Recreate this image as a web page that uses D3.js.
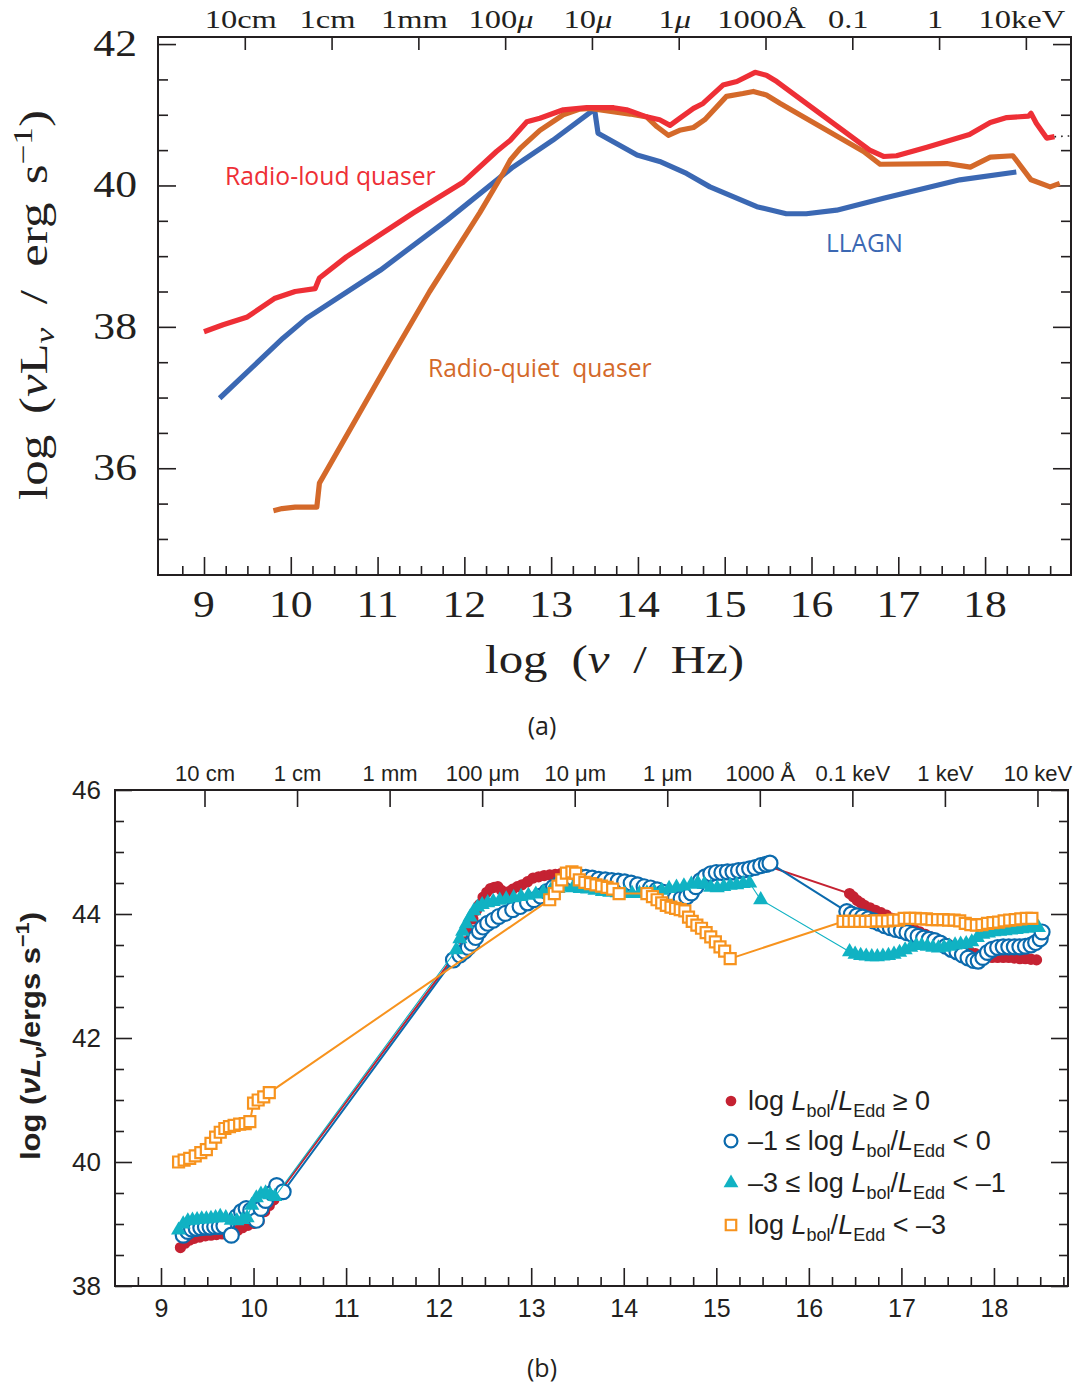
<!DOCTYPE html>
<html>
<head>
<meta charset="utf-8">
<title>AGN spectral energy distributions</title>
<script src="https://cdn.jsdelivr.net/npm/d3@7/dist/d3.min.js"></script>
<style>
  html, body { margin: 0; padding: 0; background: #ffffff; }
  svg { display: block; }
</style>
</head>
<body>
<svg id="fig" width="1088" height="1391"></svg>
<script>
// ===== Panel (a): template SEDs, log(nu / Hz) vs log(nu L_nu / erg s^-1) =====
const rlqNu = [9.00, 9.22, 9.50, 9.81, 10.05, 10.28, 10.33, 10.64, 11.41, 11.99, 12.37, 12.53, 12.72, 12.87, 13.14, 13.41, 13.72, 13.87, 14.10, 14.25, 14.37, 14.48, 14.64, 14.75, 14.98, 15.14, 15.35, 15.48, 15.60, 16.67, 16.83, 16.98, 17.33, 17.82, 18.06, 18.25, 18.50, 18.53, 18.59, 18.71, 18.80];
const rlqL  = [37.93, 38.03, 38.14, 38.40, 38.50, 38.54, 38.69, 38.99, 39.61, 40.05, 40.48, 40.64, 40.90, 40.95, 41.07, 41.10, 41.10, 41.07, 40.97, 40.93, 40.85, 40.95, 41.09, 41.16, 41.42, 41.47, 41.60, 41.56, 41.47, 40.50, 40.41, 40.42, 40.54, 40.72, 40.89, 40.96, 40.98, 41.02, 40.88, 40.67, 40.69];
const rlqTailNu = [18.80, 18.97];
const rlqTailL  = [40.69, 40.70];

const rqqNu = [9.80, 9.90, 10.05, 10.30, 10.33, 11.14, 11.60, 12.18, 12.45, 12.53, 12.64, 12.87, 13.14, 13.33, 13.45, 13.91, 14.10, 14.22, 14.35, 14.48, 14.64, 14.77, 15.02, 15.21, 15.33, 15.48, 15.64, 16.60, 16.79, 17.56, 17.83, 18.06, 18.32, 18.53, 18.75, 18.86];
const rqqL  = [35.40, 35.43, 35.45, 35.45, 35.79, 37.53, 38.50, 39.62, 40.18, 40.36, 40.52, 40.78, 41.00, 41.08, 41.09, 41.01, 40.97, 40.83, 40.71, 40.78, 40.82, 40.93, 41.26, 41.30, 41.33, 41.28, 41.16, 40.48, 40.30, 40.31, 40.26, 40.40, 40.42, 40.08, 39.98, 40.03];

const llagnNu = [9.18, 9.91, 10.18, 11.03, 11.80, 12.56, 13.02, 13.50, 13.54, 13.99, 14.25, 14.56, 14.83, 15.37, 15.71, 15.94, 16.29, 16.83, 17.71, 18.36];
const llagnL  = [36.99, 37.84, 38.12, 38.80, 39.51, 40.26, 40.64, 41.08, 40.74, 40.43, 40.34, 40.17, 39.98, 39.70, 39.60, 39.60, 39.65, 39.82, 40.08, 40.19];

const majorNuA = [9, 10, 11, 12, 13, 14, 15, 16, 17, 18];
const majorLA  = [36, 38, 40, 42];
const waveNu   = [9.47, 10.47, 11.47, 12.47, 13.47, 14.47, 15.47, 16.47, 17.47, 18.47];
const waveLabelsA = ["10cm", "1cm", "1mm", "100μ", "10μ", "1μ", "1000Å", "0.1", "1", "10keV"];

// ===== Panel (b): mean SEDs binned by Eddington ratio =====
// log Lbol/LEdd >= 0
const eddHighNu = [9.21, 9.26, 9.31, 9.36, 9.42, 9.48, 9.54, 9.60, 9.66, 9.72, 9.78, 9.83, 9.88, 9.94, 10.00, 10.06, 10.12, 10.17, 10.22,
  12.28, 12.33, 12.37, 12.41, 12.44, 12.48, 12.52, 12.56, 12.60, 12.64, 12.68, 12.72, 12.76, 12.80, 12.85, 12.90, 12.96, 13.02, 13.08, 13.14,
  13.20, 13.26, 13.32, 13.38, 13.44, 13.50, 13.56, 13.62, 13.68, 13.74, 13.80, 13.86, 13.92, 13.98, 14.04, 14.10, 14.16, 14.22, 14.28, 14.34,
  14.40, 14.46, 14.52, 14.58, 14.64, 14.70, 14.76, 14.82, 14.88, 14.94, 15.00, 15.06, 15.12, 15.18, 15.24, 15.30, 15.36, 15.42, 15.48, 15.54,
  16.44, 16.48, 16.52, 16.56, 16.60, 16.66, 16.72, 16.78, 16.84, 16.90, 16.96, 17.02, 17.08, 17.14, 17.20, 17.26, 17.32, 17.38, 17.44, 17.50,
  17.56, 17.62, 17.68, 17.74, 17.80, 17.86, 17.92, 17.98, 18.04, 18.10, 18.16, 18.22, 18.28, 18.34, 18.40, 18.46];
const eddHighL = [38.62, 38.69, 38.74, 38.77, 38.79, 38.81, 38.82, 38.83, 38.84, 38.85, 38.87, 38.90, 38.94, 38.98, 39.01, 39.04, 39.20, 39.30, 39.39,
  43.55, 43.75, 43.92, 44.06, 44.15, 44.27, 44.35, 44.41, 44.43, 44.44, 44.38, 44.34, 44.36, 44.40, 44.44, 44.47, 44.52, 44.58, 44.60, 44.62,
  44.63, 44.64, 44.65, 44.64, 44.62, 44.60, 44.58, 44.56, 44.55, 44.54, 44.53, 44.52, 44.50, 44.48, 44.46, 44.44, 44.42, 44.40, 44.37, 44.33,
  44.29, 44.26, 44.24, 44.24, 44.27, 44.33, 44.42, 44.52, 44.60, 44.64, 44.66, 44.67, 44.68, 44.69, 44.70, 44.71, 44.73, 44.75, 44.77, 44.78,
  44.33, 44.28, 44.22, 44.18, 44.14, 44.10, 44.06, 44.02, 43.98, 43.93, 43.88, 43.83, 43.79, 43.75, 43.71, 43.67, 43.63, 43.59, 43.55, 43.52,
  43.48, 43.45, 43.42, 43.39, 43.36, 43.33, 43.31, 43.30, 43.30, 43.30, 43.30, 43.29, 43.28, 43.28, 43.27, 43.26];

// -1 <= log Lbol/LEdd < 0
const eddMidNu = [9.24, 9.29, 9.33, 9.38, 9.43, 9.48, 9.53, 9.58, 9.63, 9.68, 9.76, 9.82, 9.87, 9.92, 9.97, 10.03, 10.08, 10.13, 10.20, 10.25, 10.32,
  12.16, 12.23, 12.28, 12.32, 12.36, 12.40, 12.44, 12.48, 12.53, 12.59, 12.65, 12.72, 12.80, 12.88, 12.96, 13.03, 13.10, 13.17, 13.24, 13.31,
  13.38, 13.45, 13.52, 13.59, 13.66, 13.73, 13.80, 13.87, 13.94, 14.01, 14.08, 14.15, 14.22, 14.29, 14.36, 14.43, 14.50, 14.56, 14.62, 14.68,
  14.73, 14.78, 14.83, 14.88, 14.94, 15.00, 15.06, 15.12, 15.18, 15.24, 15.30, 15.36, 15.42, 15.48, 15.54, 15.58,
  16.41, 16.46, 16.52, 16.58, 16.64, 16.70, 16.76, 16.82, 16.88, 16.94, 17.00, 17.06, 17.12, 17.18, 17.24, 17.30, 17.36, 17.42, 17.48, 17.54,
  17.60, 17.66, 17.72, 17.78, 17.83, 17.88, 17.93, 17.98, 18.04, 18.10, 18.16, 18.22, 18.28, 18.34, 18.40, 18.45, 18.50, 18.52];
const eddMidL = [38.82, 38.88, 38.92, 38.93, 38.94, 38.95, 38.95, 38.96, 38.96, 38.97, 38.82, 39.12, 39.20, 39.25, 39.22, 39.06, 39.25, 39.38, 39.50, 39.62, 39.52,
  43.26, 43.34, 43.40, 43.46, 43.53, 43.62, 43.72, 43.79, 43.85, 43.90, 43.96, 44.01, 44.07, 44.12, 44.18, 44.23, 44.29, 44.36, 44.43, 44.49,
  44.54, 44.58, 44.60, 44.59, 44.58, 44.56, 44.55, 44.54, 44.53, 44.52, 44.50, 44.47, 44.44, 44.42, 44.39, 44.35, 44.30, 44.26, 44.25, 44.28,
  44.34, 44.44, 44.54, 44.60, 44.65, 44.67, 44.67, 44.68, 44.68, 44.70, 44.71, 44.73, 44.75, 44.78, 44.80, 44.82,
  44.04, 44.00, 43.97, 43.95, 43.92, 43.89, 43.85, 43.81, 43.78, 43.75, 43.73, 43.70, 43.67, 43.64, 43.61, 43.59, 43.57, 43.53, 43.48, 43.43,
  43.39, 43.34, 43.29, 43.25, 43.24, 43.30, 43.38, 43.43, 43.46, 43.47, 43.47, 43.47, 43.47, 43.48, 43.50, 43.54, 43.60, 43.71];

// -3 <= log Lbol/LEdd < -1
const eddLowNu = [9.19, 9.24, 9.29, 9.34, 9.39, 9.44, 9.49, 9.54, 9.59, 9.64, 9.70, 9.76, 9.82, 9.88, 9.93, 9.98, 10.03, 10.08, 10.13, 10.18, 10.23,
  12.19, 12.23, 12.26, 12.30, 12.34, 12.38, 12.42, 12.47, 12.53, 12.59, 12.66, 12.73, 12.81, 12.89, 12.97, 13.05, 13.13, 13.21, 13.29, 13.37,
  13.45, 13.53, 13.61, 13.69, 13.77, 13.85, 13.93, 14.01, 14.09, 14.17, 14.25, 14.33, 14.41, 14.49, 14.57, 14.65, 14.73, 14.80, 14.87, 14.94,
  15.01, 15.08, 15.15, 15.22, 15.29, 15.36, 15.48,
  16.44, 16.50, 16.56, 16.62, 16.68, 16.74, 16.80, 16.86, 16.92, 16.98, 17.04, 17.10, 17.16, 17.22, 17.28, 17.34, 17.40, 17.46, 17.52, 17.58,
  17.64, 17.70, 17.76, 17.82, 17.88, 17.94, 18.00, 18.06, 18.12, 18.18, 18.24, 18.30, 18.36, 18.42, 18.48];
const eddLowL = [38.90, 39.00, 39.05, 39.06, 39.07, 39.08, 39.08, 39.09, 39.10, 39.12, 39.10, 39.06, 39.05, 39.07, 39.10, 39.30, 39.42, 39.48, 39.50, 39.47, 39.44,
  43.42, 43.60, 43.72, 43.84, 43.95, 44.05, 44.11, 44.15, 44.18, 44.20, 44.22, 44.24, 44.26, 44.28, 44.30, 44.32, 44.35, 44.38, 44.41, 44.43,
  44.42, 44.41, 44.40, 44.38, 44.36, 44.35, 44.34, 44.33, 44.33, 44.33, 44.34, 44.36, 44.38, 44.41, 44.43, 44.45, 44.48, 44.50, 44.48, 44.43,
  44.42, 44.44, 44.46, 44.47, 44.49, 44.50, 44.23,
  43.39, 43.35, 43.33, 43.32, 43.31, 43.31, 43.32, 43.33, 43.35, 43.38, 43.42, 43.46, 43.49, 43.49, 43.48, 43.46, 43.45, 43.46, 43.48, 43.50,
  43.51, 43.52, 43.55, 43.62, 43.67, 43.69, 43.71, 43.72, 43.73, 43.74, 43.75, 43.76, 43.77, 43.78, 43.78];

// log Lbol/LEdd < -3
const eddVeryLowNu = [9.19, 9.25, 9.31, 9.37, 9.43, 9.49, 9.54, 9.59, 9.64, 9.69, 9.74, 9.79, 9.85, 9.91, 9.96, 10.00, 10.05, 10.11, 10.17,
  13.20, 13.25, 13.29, 13.33, 13.38, 13.44, 13.48, 13.52, 13.58, 13.64, 13.70, 13.76, 13.82, 13.88, 13.95, 14.25, 14.31, 14.36, 14.41, 14.46,
  14.51, 14.56, 14.61, 14.66, 14.70, 14.74, 14.79, 14.84, 14.89, 14.94, 14.99, 15.04, 15.09, 15.15,
  16.37, 16.43, 16.49, 16.55, 16.61, 16.67, 16.73, 16.79, 16.85, 16.91, 16.97, 17.03, 17.09, 17.15, 17.21, 17.27, 17.33, 17.39, 17.45, 17.51,
  17.57, 17.63, 17.69, 17.75, 17.81, 17.87, 17.93, 17.99, 18.05, 18.11, 18.17, 18.23, 18.29, 18.35, 18.41];
const eddVeryLowL = [40.00, 40.03, 40.06, 40.10, 40.15, 40.20, 40.30, 40.40, 40.48, 40.54, 40.57, 40.59, 40.61, 40.62, 40.65, 40.95, 41.00, 41.05, 41.12,
  44.23, 44.33, 44.45, 44.55, 44.66, 44.68, 44.66, 44.55, 44.51, 44.49, 44.47, 44.45, 44.43, 44.40, 44.33, 44.33, 44.28, 44.23, 44.18, 44.14,
  44.11, 44.09, 44.07, 44.05, 43.95, 43.88, 43.82, 43.77, 43.70, 43.63, 43.55, 43.47, 43.40, 43.28,
  43.88, 43.88, 43.88, 43.88, 43.88, 43.88, 43.89, 43.89, 43.89, 43.90, 43.90, 43.93, 43.93, 43.93, 43.92, 43.92, 43.91, 43.91, 43.91, 43.90,
  43.90, 43.89, 43.85, 43.83, 43.82, 43.83, 43.85, 43.86, 43.87, 43.89, 43.90, 43.91, 43.92, 43.93, 43.93];

const majorNuB = [9, 10, 11, 12, 13, 14, 15, 16, 17, 18];
const majorLB  = [38, 40, 42, 44, 46];
const waveLabelsB = ["10 cm", "1 cm", "1 mm", "100 μm", "10 μm", "1 μm", "1000 Å", "0.1 keV", "1 keV", "10 keV"];
const legendPrefix = ["", "–1 ≤ ", "–3 ≤ ", ""];
const legendSuffix = [" ≥ 0", " < 0", " < –1", " < –3"];

// ---------------------------------------------------------------
const svg = d3.select("#fig");
const INK = "#231f20";
const SERIF = "'Liberation Serif','Times New Roman',serif";
const SANS = "'Liberation Sans',Arial,Helvetica,sans-serif";
const HUMAN = "'Open Sans','Noto Sans',sans-serif";

function tidyAxis(g) {
  g.select(".domain").remove();
  g.selectAll(".tick line").attr("stroke", INK).attr("stroke-width", 1.6);
}

// text inside a group that can be stretched horizontally (the serif labels are set wide)
function label(parent, x, y, family, size, anchor, rotate) {
  const g = parent.append("g");
  const t = g.append("text")
    .attr("font-family", family).attr("font-size", size)
    .attr("fill", INK).attr("text-anchor", anchor)
    .style("white-space", "pre");
  const place = s => g.attr("transform",
    `translate(${x},${y})` + (rotate ? ` rotate(${rotate})` : "") + ` scale(${s},1)`);
  place(1);
  return {
    t,
    stretch: s => { place(s); },
    fit: w => { place(w / t.node().getBBox().width); }
  };
}

function minorValues(lo, hi, step, skip) {
  const out = [];
  for (let i = Math.ceil(lo / step); i * step <= hi + 1e-9; i++) {
    const v = +(i * step).toFixed(4);
    if (!skip(v)) out.push(v);
  }
  return out;
}

// ===================== panel (a) =====================
const xA = d3.scaleLinear().domain([8.47, 18.99]).range([158, 1071]);
const yA = d3.scaleLinear().domain([34.49, 42.1]).range([575, 37]);
const [aL, aR] = xA.range();
const [aB, aT] = yA.range();
const pa = svg.append("g");

const minorNuA = minorValues(8.5, 18.99, 0.25, v => Number.isInteger(v) || v <= 8.5);
const minorLA = minorValues(34.6, 42.1, 0.5, v => majorLA.includes(v));

pa.append("g").attr("transform", `translate(0,${aB})`)
  .call(d3.axisBottom(xA).tickValues(majorNuA).tickSize(-18).tickFormat("")).call(tidyAxis);
pa.append("g").attr("transform", `translate(0,${aB})`)
  .call(d3.axisBottom(xA).tickValues(minorNuA).tickSize(-9).tickFormat("")).call(tidyAxis);
pa.append("g").attr("transform", `translate(0,${aT})`)
  .call(d3.axisTop(xA).tickValues(waveNu).tickSize(-13).tickFormat("")).call(tidyAxis);
pa.append("g").attr("transform", `translate(${aL},0)`)
  .call(d3.axisLeft(yA).tickValues(majorLA).tickSize(-18).tickFormat("")).call(tidyAxis);
pa.append("g").attr("transform", `translate(${aL},0)`)
  .call(d3.axisLeft(yA).tickValues(minorLA).tickSize(-10).tickFormat("")).call(tidyAxis);
pa.append("g").attr("transform", `translate(${aR},0)`)
  .call(d3.axisRight(yA).tickValues(majorLA).tickSize(-18).tickFormat("")).call(tidyAxis);
pa.append("g").attr("transform", `translate(${aR},0)`)
  .call(d3.axisRight(yA).tickValues(minorLA).tickSize(-10).tickFormat("")).call(tidyAxis);

pa.append("rect").attr("x", aL).attr("y", aT).attr("width", aR - aL).attr("height", aB - aT)
  .attr("fill", "none").attr("stroke", INK).attr("stroke-width", 2);

// template curves
const lineA = d3.line().x(d => xA(d[0])).y(d => yA(d[1]));
const curvesA = [
  { nu: llagnNu, L: llagnL, color: "#3b68b3" },
  { nu: rqqNu, L: rqqL, color: "#d4692a" },
  { nu: rlqNu, L: rlqL, color: "#ee2f36" }
];
curvesA.forEach(c => {
  pa.append("path").datum(c.nu.map((v, i) => [v, c.L[i]]))
    .attr("d", lineA).attr("fill", "none").attr("stroke", c.color)
    .attr("stroke-width", 5.2).attr("stroke-linejoin", "round");
});
pa.append("path").datum(rlqTailNu.map((v, i) => [v, rlqTailL[i]]))
  .attr("d", lineA).attr("fill", "none").attr("stroke", INK)
  .attr("stroke-width", 1.6).attr("stroke-dasharray", "1.6,5");

// curve names
[
  { text: "Radio-loud quaser", x: 225, y: 185, w: 211, color: "#ee2f36" },
  { text: "LLAGN", x: 826, y: 252, w: 77, color: "#3b68b3" },
  { text: "Radio-quiet  quaser", x: 428, y: 377, w: 224, color: "#d4692a" }
].forEach(n => {
  const lb = label(pa, n.x, n.y, HUMAN, 26, "start");
  lb.t.attr("fill", n.color).text(n.text);
  lb.fit(n.w);
});

// tick labels (serif, set wide)
majorNuA.forEach(v => {
  const lb = label(pa, xA(v), 617, SERIF, 37, "middle");
  lb.t.text(v);
  lb.stretch(1.18);
});
majorLA.forEach(v => {
  const lb = label(pa, 137, yA(v) + 12, SERIF, 37, "end");
  lb.t.text(v);
  lb.stretch(1.18);
});
waveLabelsA.forEach((s, i) => {
  const lb = label(pa, xA(waveNu[i]) - 4, 28, SERIF, 25, "middle");
  s.split(/(μ)/).filter(p => p.length).forEach(p => {
    lb.t.append("tspan").attr("font-style", p === "μ" ? "italic" : null).text(p);
  });
  lb.stretch(1.3);
});

// axis titles
{
  const lb = label(pa, (aL + aR) / 2, 673, SERIF, 41, "middle");
  lb.t.append("tspan").text("log");
  lb.t.append("tspan").attr("dx", 20).text("(");
  lb.t.append("tspan").attr("font-style", "italic").text("ν");
  lb.t.append("tspan").attr("dx", 20).text("/");
  lb.t.append("tspan").attr("dx", 20).text("Hz)");
  lb.fit(259);
}
{
  const lb = label(pa, 47, 305, SERIF, 39, "middle", -90);
  lb.t.append("tspan").text("log");
  lb.t.append("tspan").attr("dx", 16).text("(");
  lb.t.append("tspan").attr("font-style", "italic").text("ν");
  lb.t.append("tspan").text("L");
  lb.t.append("tspan").attr("font-style", "italic").attr("font-size", 27).attr("dy", 7).text("ν");
  lb.t.append("tspan").attr("dy", -7).attr("dx", 18).text("/");
  lb.t.append("tspan").attr("dx", 18).text("erg");
  lb.t.append("tspan").attr("dx", 14).text("s");
  lb.t.append("tspan").attr("font-size", 27).attr("dy", -15).text("−1");
  lb.t.append("tspan").attr("dy", 15).text(")");
  lb.fit(390);
}

svg.append("text").attr("x", 542).attr("y", 735).attr("text-anchor", "middle")
  .attr("font-family", HUMAN).attr("font-size", 25).attr("fill", INK).text("(a)");

// ===================== panel (b) =====================
const xB = d3.scaleLinear().domain([8.503, 18.80]).range([115, 1068]);
const yB = d3.scaleLinear().domain([38, 46]).range([1286, 790]);
const [bL, bR] = xB.range();
const [bB, bT] = yB.range();
const pb = svg.append("g");

const minorNuB = minorValues(8.6, 18.8, 0.25, v => Number.isInteger(v));
const minorLB = minorValues(38.1, 45.9, 0.5, v => majorLB.includes(v));

const xAxisB = pb.append("g").attr("transform", `translate(0,${bB})`)
  .call(d3.axisBottom(xB).tickValues(majorNuB).tickSize(-18).tickPadding(13)).call(tidyAxis);
xAxisB.selectAll("text").attr("font-family", SANS).attr("font-size", 25).attr("fill", INK);
pb.append("g").attr("transform", `translate(0,${bB})`)
  .call(d3.axisBottom(xB).tickValues(minorNuB).tickSize(-9).tickFormat("")).call(tidyAxis);
const waveAxisB = pb.append("g").attr("transform", `translate(0,${bT})`)
  .call(d3.axisTop(xB).tickValues(waveNu).tickSize(-17).tickPadding(9)
    .tickFormat((d, i) => waveLabelsB[i])).call(tidyAxis);
waveAxisB.selectAll("text").attr("font-family", SANS).attr("font-size", 22).attr("fill", INK)
  .attr("y", -9).attr("dy", 0);
const yAxisB = pb.append("g").attr("transform", `translate(${bL},0)`)
  .call(d3.axisLeft(yB).tickValues(majorLB).tickSize(-17).tickPadding(14)).call(tidyAxis);
yAxisB.selectAll("text").attr("font-family", SANS).attr("font-size", 26).attr("fill", INK);
pb.append("g").attr("transform", `translate(${bL},0)`)
  .call(d3.axisLeft(yB).tickValues(minorLB).tickSize(-9).tickFormat("")).call(tidyAxis);
pb.append("g").attr("transform", `translate(${bR},0)`)
  .call(d3.axisRight(yB).tickValues(majorLB).tickSize(-17).tickFormat("")).call(tidyAxis);
pb.append("g").attr("transform", `translate(${bR},0)`)
  .call(d3.axisRight(yB).tickValues(minorLB).tickSize(-9).tickFormat("")).call(tidyAxis);

pb.append("rect").attr("x", bL).attr("y", bT).attr("width", bR - bL).attr("height", bB - bT)
  .attr("fill", "none").attr("stroke", INK).attr("stroke-width", 2);

// Eddington-ratio groups
const groups = [
  { nu: eddHighNu, L: eddHighL, color: "#c52232", lw: 2, sym: d3.symbolCircle, size: 100, fill: true },
  { nu: eddMidNu, L: eddMidL, color: "#0b6aad", lw: 2, sym: d3.symbolCircle, size: 175, fill: false },
  { nu: eddLowNu, L: eddLowL, color: "#10b2c3", lw: 1.1, sym: d3.symbolTriangle, size: 100, fill: true },
  { nu: eddVeryLowNu, L: eddVeryLowL, color: "#f7931e", lw: 2, sym: d3.symbolSquare, size: 121, fill: false }
];
const lineB = d3.line().x(d => xB(d[0])).y(d => yB(d[1]));
groups.forEach(gp => {
  const pts = gp.nu.map((v, i) => [v, gp.L[i]]);
  pb.append("path").datum(pts).attr("d", lineB).attr("fill", "none")
    .attr("stroke", gp.color).attr("stroke-width", gp.lw);
  pb.append("g").selectAll("path").data(pts).join("path")
    .attr("transform", d => `translate(${xB(d[0])},${yB(d[1])})`)
    .attr("d", d3.symbol().type(gp.sym).size(gp.size))
    .attr("fill", gp.fill ? gp.color : "#ffffff")
    .attr("stroke", gp.fill ? "none" : gp.color)
    .attr("stroke-width", gp.fill ? 0 : 2.2);
});

// legend
const legRows = [1110, 1150, 1192, 1234];
const legSym = [
  { sym: d3.symbolCircle, size: 90 }, { sym: d3.symbolCircle, size: 130 },
  { sym: d3.symbolTriangle, size: 95 }, { sym: d3.symbolSquare, size: 110 }
];
groups.forEach((gp, i) => {
  pb.append("path")
    .attr("transform", `translate(731,${legRows[i] - 9})`)
    .attr("d", d3.symbol().type(legSym[i].sym).size(legSym[i].size))
    .attr("fill", gp.fill ? gp.color : "#ffffff")
    .attr("stroke", gp.fill ? "none" : gp.color)
    .attr("stroke-width", gp.fill ? 0 : 2.2);
  const t = pb.append("text").attr("x", 748).attr("y", legRows[i])
    .attr("font-family", SANS).attr("font-size", 27).attr("fill", INK).style("white-space", "pre");
  t.append("tspan").text(legendPrefix[i] + "log ");
  t.append("tspan").attr("font-style", "italic").text("L");
  t.append("tspan").attr("font-size", 18).attr("dy", 7).text("bol");
  t.append("tspan").attr("dy", -7).text("/");
  t.append("tspan").attr("font-style", "italic").text("L");
  t.append("tspan").attr("font-size", 18).attr("dy", 7).text("Edd");
  t.append("tspan").attr("dy", -7).text(legendSuffix[i]);
});

// y title
{
  const lb = label(pb, 40, 1036, SANS, 27, "middle", -90);
  lb.t.attr("font-weight", "bold");
  lb.t.append("tspan").text("log (");
  lb.t.append("tspan").attr("font-style", "italic").text("νL");
  lb.t.append("tspan").attr("font-style", "italic").attr("font-size", 19).attr("dy", 6).text("ν");
  lb.t.append("tspan").attr("dy", -6).text("/ergs s");
  lb.t.append("tspan").attr("font-size", 19).attr("dy", -11).text("−1");
  lb.t.append("tspan").attr("dy", 11).text(")");
  lb.fit(248);
}

svg.append("text").attr("x", 542).attr("y", 1377).attr("text-anchor", "middle")
  .attr("font-family", HUMAN).attr("font-size", 25).attr("fill", INK).text("(b)");
</script>
</body>
</html>
